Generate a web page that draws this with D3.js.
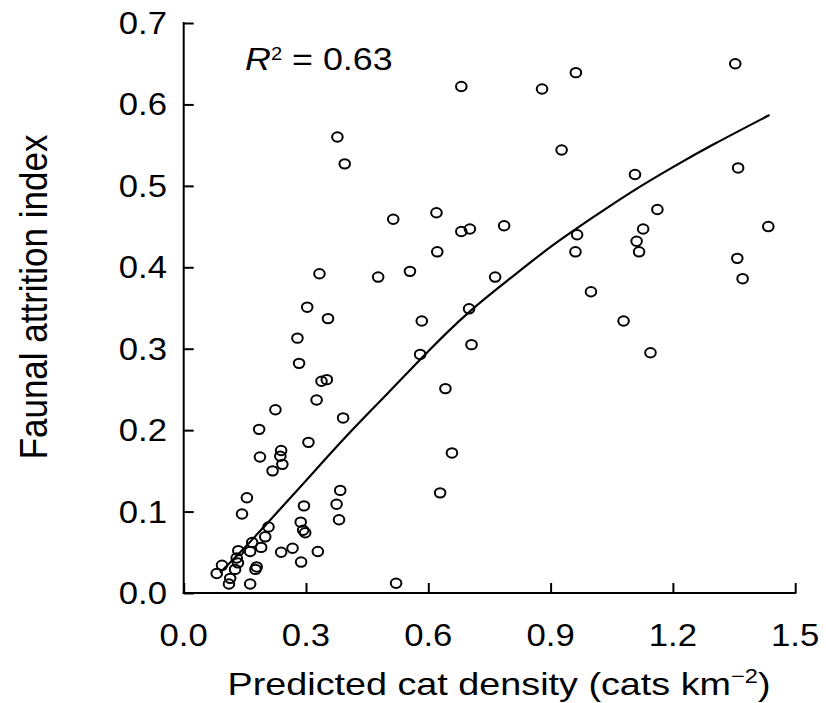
<!DOCTYPE html>
<html><head><meta charset="utf-8">
<script src="https://cdn.jsdelivr.net/npm/d3@7/dist/d3.min.js"></script>
<style>body{margin:0;background:#fff}svg{display:block}</style>
</head><body><svg id="c" width="826" height="703"></svg>
<script>
// Observed sites: predicted cat density (cats km^-2) vs faunal attrition index
const catDensity = [
  0.681,0.377,0.395,0.514,0.620,0.681,0.702,0.622,0.333,0.477,
  0.555,0.303,0.354,0.700,0.279,0.283,0.584,0.706,0.580,0.338,
  0.351,0.326,0.642,0.225,0.391,0.185,0.306,0.239,0.237,0.242,
  0.187,0.218,0.384,0.155,0.375,0.295,0.143,0.381,0.287,0.293,
  0.298,0.208,0.200,0.168,0.190,0.163,0.134,0.239,0.267,0.329,
  0.288,0.130,0.133,0.126,0.179,0.176,0.094,0.081,0.114,0.111,
  0.163,0.521,0.658,0.629,0.962,0.879,1.353,0.927,1.107,1.360,
  1.162,1.127,1.111,1.117,0.786,0.965,0.961,1.434,1.358,1.371,
  0.764,0.999,1.079,1.145
];
const faunalAttrition = [
  0.622,0.560,0.527,0.459,0.467,0.444,0.447,0.419,0.392,0.388,
  0.395,0.351,0.337,0.349,0.313,0.282,0.334,0.305,0.293,0.260,
  0.262,0.237,0.251,0.225,0.215,0.201,0.185,0.175,0.168,0.158,
  0.167,0.150,0.126,0.117,0.109,0.107,0.097,0.090,0.087,0.077,
  0.074,0.081,0.069,0.062,0.056,0.051,0.052,0.050,0.055,0.051,
  0.038,0.043,0.037,0.029,0.032,0.029,0.034,0.024,0.018,0.011,
  0.011,0.012,0.172,0.123,0.639,0.619,0.650,0.544,0.514,0.522,
  0.471,0.447,0.432,0.419,0.451,0.440,0.419,0.450,0.411,0.386,
  0.388,0.370,0.334,0.295
];
// Fitted relationship
const fitDensity   = [0.089,0.15,0.20,0.30,0.40,0.50,0.60,0.70,0.80,0.90,1.00,1.10,1.20,1.30,1.437];
const fitAttrition = [0.025,0.056,0.083,0.138,0.193,0.245,0.297,0.345,0.386,0.425,0.460,0.493,0.523,0.551,0.587];

const xTicks = [0.0,0.3,0.6,0.9,1.2,1.5];
const yTicks = [0.0,0.1,0.2,0.3,0.4,0.5,0.6,0.7];
const xTickLabels = ["0.0","0.3","0.6","0.9","1.2","1.5"];
const yTickLabels = ["0.0","0.1","0.2","0.3","0.4","0.5","0.6","0.7"];
const xTitle = "Predicted cat density (cats km";
const yTitle = "Faunal attrition index";
const r2Text = "0.63";

const FONT = "'Liberation Sans', Arial, Helvetica, sans-serif";
const SX = 1.12; // horizontal stretch of the original figure

const svg = d3.select("#c");
const x = d3.scaleLinear().domain([0,1.5]).range([183.7,795.2]);
const y = d3.scaleLinear().domain([0,0.7]).range([593,23]);

// axes (ticks inward)
const gx = svg.append("g").attr("transform","translate(0,593)")
  .call(d3.axisBottom(x).tickValues(xTicks).tickSizeInner(-10).tickSizeOuter(0).tickFormat(""));
const gy = svg.append("g").attr("transform","translate(183.7,0)")
  .call(d3.axisLeft(y).tickValues(yTicks).tickSizeInner(-10).tickSizeOuter(0).tickFormat(""));
[gx,gy].forEach(g=>{
  g.selectAll("path,line").attr("stroke","#000").attr("stroke-width",2);
  g.selectAll("text").remove();
});
gx.select(".domain").attr("d","M182.7,0H796.2");
gy.select(".domain").attr("d","M0,594V22");

// tick labels
svg.append("g").selectAll("text").data(xTicks).join("text")
  .attr("transform",d=>`translate(${x(d)},646) scale(${SX},1)`)
  .attr("text-anchor","middle").attr("font-family",FONT).attr("font-size",31)
  .attr("fill","#000").text((d,i)=>xTickLabels[i]);
svg.append("g").selectAll("text").data(yTicks).join("text")
  .attr("transform",d=>`translate(167,${y(d)+11}) scale(${SX},1)`)
  .attr("text-anchor","end").attr("font-family",FONT).attr("font-size",31)
  .attr("fill","#000").text((d,i)=>yTickLabels[i]);

// axis titles
const xt = svg.append("text")
  .attr("transform",`translate(499,695) scale(1.18,1)`)
  .attr("text-anchor","middle").attr("font-family",FONT).attr("font-size",32).attr("fill","#000");
xt.append("tspan").text(xTitle);
xt.append("tspan").attr("font-size",20).attr("dy",-12).text("\u22122");
xt.append("tspan").attr("dy",12).text(")");

svg.append("text")
  .attr("transform",`translate(47,297) rotate(-90) scale(1,${SX})`)
  .attr("text-anchor","middle").attr("font-family",FONT).attr("font-size",35).attr("fill","#000")
  .text(yTitle);

// R^2 annotation
const rt = svg.append("text")
  .attr("transform",`translate(245,70) scale(${SX},1)`)
  .attr("font-family",FONT).attr("font-size",32).attr("fill","#000");
rt.append("tspan").attr("font-style","italic").text("R");
rt.append("tspan").attr("font-size",18).attr("dy",-10).text("2");
rt.append("tspan").attr("dy",10).text(" = " + r2Text);

// fitted curve
const fit = fitDensity.map((d,i)=>[d,fitAttrition[i]]);
svg.append("path").datum(fit)
  .attr("d",d3.line().x(d=>x(d[0])).y(d=>y(d[1])).curve(d3.curveNatural))
  .attr("fill","none").attr("stroke","#000").attr("stroke-width",2.2);

// points
svg.append("g").selectAll("ellipse").data(catDensity.map((d,i)=>[d,faunalAttrition[i]])).join("ellipse")
  .attr("cx",d=>x(d[0])).attr("cy",d=>y(d[1]))
  .attr("rx",5.3).attr("ry",4.7)
  .attr("fill","none").attr("stroke","#000").attr("stroke-width",2);
</script></body></html>
